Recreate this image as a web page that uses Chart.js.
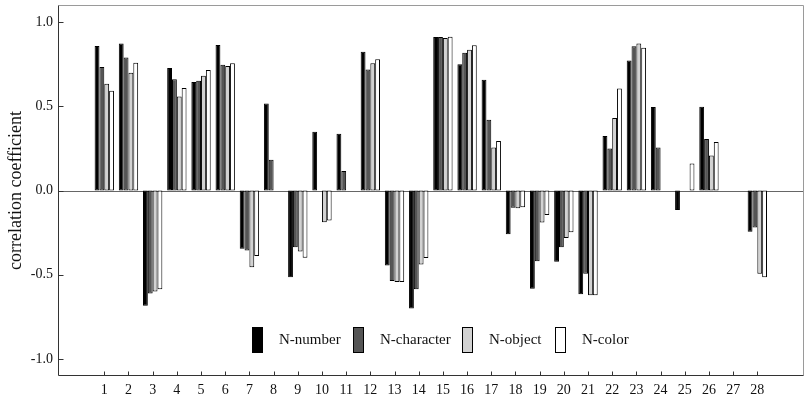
<!DOCTYPE html>
<html>
<head>
<meta charset="utf-8">
<script src="https://cdn.jsdelivr.net/npm/chart.js@4.4.1/dist/chart.umd.min.js"></script>
<style>
    body { margin: 0; background: #fff; }
    #wrap { width: 810px; height: 399px; }
</style>
</head>
<body>
<div id="wrap"><canvas id="corrChart" width="810" height="399"></canvas></div>
<script>
// Data
const categories = [1, 2, 3, 4, 5, 6, 7, 8, 9, 10, 11, 12, 13, 14, 15, 16, 17, 18, 19, 20, 21, 22, 23, 24, 25, 26, 27, 28];
const nNumber = [0.857, 0.872, -0.684, 0.726, 0.643, 0.863, -0.346, 0.516, -0.514, 0.348, 0.336, 0.823, -0.445, -0.700, 0.910, 0.748, 0.657, -0.259, -0.583, -0.423, -0.615, 0.323, 0.771, 0.495, -0.116, 0.497, 0, -0.245];
const nCharacter = [0.732, 0.789, -0.611, 0.659, 0.651, 0.746, -0.356, 0.182, -0.336, 0, 0.115, 0.718, -0.536, -0.585, 0.910, 0.817, 0.420, -0.103, -0.419, -0.336, -0.493, 0.249, 0.855, 0.255, 0, 0.305, 0, -0.220];
const nObject = [0.633, 0.698, -0.599, 0.558, 0.681, 0.738, -0.455, 0, -0.362, -0.188, 0, 0.754, -0.542, -0.439, 0.904, 0.835, 0.255, -0.105, -0.190, -0.281, -0.621, 0.430, 0.871, 0, 0, 0.208, 0, -0.494];
const nColor = [0.592, 0.758, -0.585, 0.608, 0.714, 0.754, -0.389, 0, -0.399, -0.178, 0, 0.778, -0.542, -0.401, 0.912, 0.861, 0.293, -0.100, -0.146, -0.247, -0.621, 0.605, 0.847, 0, 0.160, 0.287, 0, -0.514];
const yTicks = [-1.0, -0.5, 0.0, 0.5, 1.0];
const seriesNames = ['N-number', 'N-character', 'N-object', 'N-color'];

const serif = "'Liberation Serif', 'Times New Roman', serif";
const fills = ['#000000', '#555555', '#d2d2d2', '#ffffff'];

// pair category with value for the linear x scale
function points(values) {
    return categories.map((c, i) => ({ x: c, y: values[i] }));
}

// Frame, zero line, inward tick marks and the in-plot legend
const framePlugin = {
    id: 'frame',
    beforeDatasetsDraw(chart) {
        const { ctx, chartArea: a, scales } = chart;
        const y0 = Math.round(scales.y.getPixelForValue(0)) + 0.5;
        ctx.save();
        ctx.strokeStyle = '#666';
        ctx.lineWidth = 1;
        ctx.beginPath();
        ctx.moveTo(a.left, y0);
        ctx.lineTo(a.right, y0);
        ctx.stroke();
        ctx.restore();
    },
    afterDraw(chart) {
        const { ctx, chartArea: a, scales } = chart;
        const L = Math.round(a.left) + 0.5, R = Math.round(a.right) - 0.5;
        const T = Math.round(a.top) + 0.5, B = Math.round(a.bottom) - 0.5;
        ctx.save();
        ctx.lineWidth = 1;
        // top and right in light grey
        ctx.strokeStyle = '#9a9a9a';
        ctx.beginPath();
        ctx.moveTo(L, T); ctx.lineTo(R, T); ctx.lineTo(R, B);
        ctx.stroke();
        // left and bottom axes
        ctx.strokeStyle = '#333';
        ctx.beginPath();
        ctx.moveTo(L, T); ctx.lineTo(L, B); ctx.lineTo(R, B);
        ctx.stroke();
        // inward ticks
        yTicks.forEach(v => {
            const py = Math.round(scales.y.getPixelForValue(v)) + 0.5;
            ctx.beginPath();
            ctx.moveTo(L, py); ctx.lineTo(L + 5, py);
            ctx.stroke();
        });
        categories.forEach(c => {
            const px = Math.round(scales.x.getPixelForValue(c)) + 0.5;
            ctx.beginPath();
            ctx.moveTo(px, B); ctx.lineTo(px, B - 4);
            ctx.stroke();
        });

        // legend
        const itemX = [252, 353, 462, 555];
        const boxTop = 327, boxW = 11, boxH = 26;
        ctx.font = '15px ' + serif;
        ctx.textBaseline = 'middle';
        ctx.textAlign = 'left';
        chart.data.datasets.forEach((ds, i) => {
            const x = itemX[i];
            ctx.fillStyle = ds.backgroundColor;
            ctx.fillRect(x, boxTop, boxW, boxH);
            ctx.strokeStyle = '#000';
            ctx.strokeRect(x + 0.5, boxTop + 0.5, boxW - 1, boxH - 1);
            ctx.fillStyle = '#111';
            ctx.fillText(ds.label, x + 27, boxTop + boxH / 2);
        });
        ctx.restore();
    }
};

const ctx = document.getElementById('corrChart').getContext('2d');
new Chart(ctx, {
    type: 'bar',
    data: {
        datasets: [nNumber, nCharacter, nObject, nColor].map((vals, i) => ({
            label: seriesNames[i],
            data: points(vals),
            backgroundColor: fills[i],
            borderColor: '#000',
            borderWidth: 1,
            borderSkipped: false,
            categoryPercentage: 0.8,
            barPercentage: 1.0
        }))
    },
    options: {
        responsive: false,
        animation: false,
        layout: { padding: { top: 5, right: 6, left: 0, bottom: 0 } },
        plugins: {
            legend: { display: false },
            tooltip: { enabled: false }
        },
        scales: {
            x: {
                type: 'linear',
                offset: false,
                min: -0.914,
                max: 29.93,
                grid: { display: false, drawTicks: false },
                border: { display: false },
                ticks: {
                    stepSize: 1,
                    autoSkip: false,
                    maxRotation: 0,
                    padding: 6,
                    color: '#111',
                    font: { family: serif, size: 14 }
                },
                afterBuildTicks(scale) {
                    scale.ticks = categories.map(c => ({ value: c }));
                },
                afterFit(scale) {
                    scale.height = 23;
                    scale.paddingLeft = 0;
                    scale.paddingRight = 0;
                }
            },
            y: {
                min: -1.1,
                max: 1.1,
                grid: { display: false, drawTicks: false },
                border: { display: false },
                ticks: {
                    padding: 5,
                    color: '#111',
                    font: { family: serif, size: 14 },
                    callback: v => v.toFixed(1)
                },
                afterBuildTicks(scale) {
                    scale.ticks = yTicks.map(v => ({ value: v }));
                },
                title: {
                    display: true,
                    text: 'correlation coefficient',
                    color: '#111',
                    font: { family: serif, size: 18 },
                    padding: { top: 5, bottom: 0 }
                },
                afterFit(scale) {
                    scale.width = 58;
                    scale.paddingTop = 0;
                    scale.paddingBottom = 0;
                }
            }
        }
    },
    plugins: [framePlugin]
});
</script>
</body>
</html>
